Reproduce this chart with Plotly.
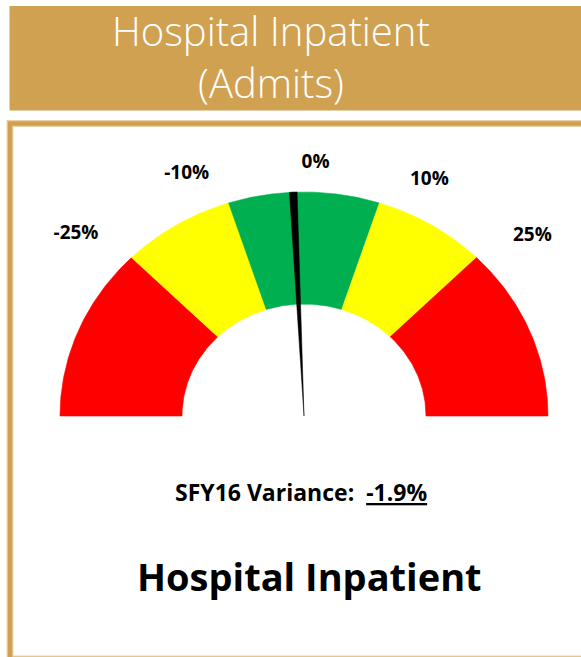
import numpy as np
import plotly.graph_objects as go

# ---------------- data ----------------
TITLE_LINES = ["Hospital Inpatient", "(Admits)"]
SEGMENT_EDGES = [-50, -25, -10, 10, 25, 50]          # gauge band limits
SEGMENT_COLORS = ["#FF0000", "#FFFF00", "#00B050", "#FFFF00", "#FF0000"]
TICK_VALUES = [-25, -10, 0, 10, 25]
TICK_LABELS = ["-25%", "-10%", "0%", "10%", "25%"]
VARIANCE = -1.9                                      # needle value (%)
NEEDLE_SPAN = 1.0                                    # needle slice width (gauge units)
VARIANCE_LABEL = "SFY16 Variance:"
FOOTER = "Hospital Inpatient"

# ---------------- style / layout ----------------
W, H = 581, 657
CX, CY, RX, RY = 304, 416, 244, 224                  # gauge centre & radii (px)
HOLE = 0.5
GOLD = "#D1A152"
GOLD_LIGHT = "#E9D3A6"
LABEL_NUDGE = [4.0, 6.0, -2.4, -8.0, -4.4]           # deg offsets of tick labels
LABEL_R = [1.238, 1.182, 1.128, 1.172, 1.233]

lo, hi = SEGMENT_EDGES[0], SEGMENT_EDGES[-1]


def ang(v):
    return np.deg2rad(180.0 - 180.0 * (v - lo) / (hi - lo))


def px(x):
    return x / W


def py(y):
    return 1 - y / H


fig = go.Figure()

# gauge bands
for a, b, col in zip(SEGMENT_EDGES[:-1], SEGMENT_EDGES[1:], SEGMENT_COLORS):
    t = np.linspace(ang(a), ang(b), 80)
    xs = np.concatenate([np.cos(t), HOLE * np.cos(t[::-1])])
    ys = np.concatenate([np.sin(t), HOLE * np.sin(t[::-1])])
    fig.add_trace(go.Scatter(x=np.append(xs, xs[0]), y=np.append(ys, ys[0]),
                             mode="lines", fill="toself", fillcolor=col,
                             line=dict(color=col, width=0.6),
                             hoverinfo="skip", showlegend=False))

# needle (thin slice from centre)
t = np.linspace(ang(VARIANCE), ang(VARIANCE + NEEDLE_SPAN), 5)
nx = np.concatenate([[0], np.cos(t), [0]])
ny = np.concatenate([[0], np.sin(t), [0]])
fig.add_trace(go.Scatter(x=nx, y=ny, mode="lines", fill="toself",
                         fillcolor="black", line=dict(color="black", width=0.5),
                         hoverinfo="skip", showlegend=False))

# tick labels
lab_t = [ang(v) + np.deg2rad(n) for v, n in zip(TICK_VALUES, LABEL_NUDGE)]
fig.add_trace(go.Scatter(
    x=[r * np.cos(a) for r, a in zip(LABEL_R, lab_t)],
    y=[r * np.sin(a) for r, a in zip(LABEL_R, lab_t)],
    mode="text", text=TICK_LABELS, textposition="middle center",
    textfont=dict(family="Open Sans", size=19, color="black", weight="bold"),
    hoverinfo="skip", showlegend=False))

shapes = [
    dict(type="rect", xref="paper", yref="paper",
         x0=px(9.5), x1=px(640), y0=py(110.5), y1=py(6),
         fillcolor=GOLD, line=dict(width=0), layer="below"),
    dict(type="rect", xref="paper", yref="paper",
         x0=px(10), x1=px(660), y0=py(659), y1=py(123.5),
         fillcolor="rgba(0,0,0,0)", line=dict(color=GOLD_LIGHT, width=7)),
    dict(type="rect", xref="paper", yref="paper",
         x0=px(10), x1=px(660), y0=py(659), y1=py(123.5),
         fillcolor="rgba(0,0,0,0)", line=dict(color=GOLD, width=4.5)),
]

annotations = [
    dict(text=TITLE_LINES[0], x=px(271), y=py(30), xref="paper", yref="paper",
         showarrow=False, xanchor="center", yanchor="middle",
         font=dict(family="Open Sans", size=40, color="white", weight=300)),
    dict(text=TITLE_LINES[1], x=px(271), y=py(82), xref="paper", yref="paper",
         showarrow=False, xanchor="center", yanchor="middle",
         font=dict(family="Open Sans", size=40, color="white", weight=300)),
    dict(text=f"<b>{VARIANCE_LABEL}  <u>{VARIANCE:.1f}%</u></b>",
         x=px(300.5), y=py(492), xref="paper", yref="paper",
         showarrow=False, xanchor="center", yanchor="middle",
         font=dict(family="Open Sans", size=23, color="black")),
    dict(text=f"<b>{FOOTER}</b>", x=px(309), y=py(576), xref="paper", yref="paper",
         showarrow=False, xanchor="center", yanchor="middle",
         font=dict(family="Open Sans", size=38, color="black")),
]

fig.update_layout(
    width=W, height=H, margin=dict(l=0, r=0, t=0, b=0),
    paper_bgcolor="white", plot_bgcolor="white",
    xaxis=dict(range=[-CX / RX, (W - CX) / RX], visible=False, fixedrange=True),
    yaxis=dict(range=[(CY - H) / RY, CY / RY], visible=False, fixedrange=True),
    shapes=shapes, annotations=annotations, showlegend=False,
)

fig.write_html(
    "out.html",
    config={"displayModeBar": False},
    post_script="document.body.style.margin='0';document.body.style.overflow='hidden';",
)
